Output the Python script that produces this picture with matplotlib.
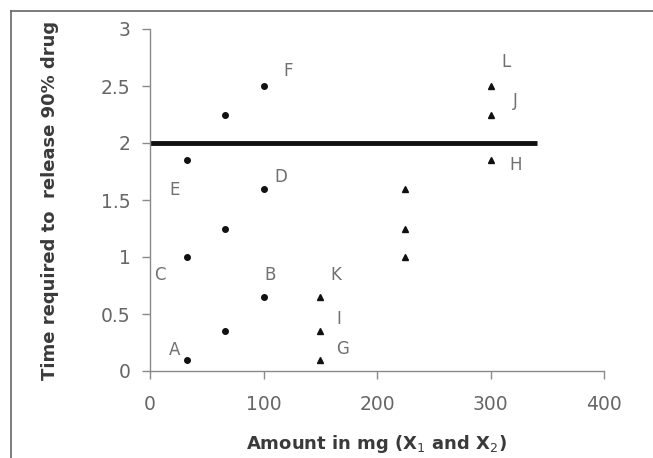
import matplotlib
matplotlib.use("Agg")
import matplotlib.pyplot as plt
from matplotlib.lines import Line2D

# === data ===
circle_x = [33, 66, 100, 33, 66, 100, 33, 66, 100]
circle_y = [0.1, 0.35, 0.65, 1.0, 1.25, 1.6, 1.85, 2.25, 2.5]

triangle_x = [150, 150, 150, 225, 225, 225, 300, 300, 300]
triangle_y = [0.1, 0.35, 0.65, 1.0, 1.25, 1.6, 1.85, 2.25, 2.5]

point_labels = ["A", "B", "C", "D", "E", "F", "G", "H", "I", "J", "K", "L"]
label_x = [22, 106, 9, 115, 22, 122, 170, 322, 166, 322, 164, 314]
label_y = [0.18, 0.84, 0.84, 1.70, 1.59, 2.63, 0.19, 1.81, 0.46, 2.37, 0.84, 2.71]

limit_y = 2.0
limit_x = [0, 341]

x_ticks = [0, 100, 200, 300, 400]
y_ticks = [0, 0.5, 1, 1.5, 2, 2.5, 3]
y_tick_labels = ["0", "0.5", "1", "1.5", "2", "2.5", "3"]

plt.rcParams["font.family"] = ["DejaVu Sans"]

fig = plt.figure(figsize=(6.53, 4.58), dpi=100)
ax = fig.add_axes([150 / 653, 1 - 371 / 458, 454 / 653, 342 / 458])

grey = "#8a8a8a"
text_grey = "#666666"

ax.plot(limit_x, [limit_y, limit_y], color="#111111", lw=3.5, solid_capstyle="butt", zorder=2)
ax.plot(circle_x, circle_y, "o", color="#111111", ms=4, ls="none", zorder=3)
ax.plot(triangle_x, triangle_y, "^", color="#111111", ms=5, ls="none", zorder=3)

for lab, lx, ly in zip(point_labels, label_x, label_y):
    ax.text(lx, ly, lab, fontsize=12, color="#707070", ha="center", va="center")

ax.set_xlim(0, 400)
ax.set_ylim(0, 3)
ax.set_xticks(x_ticks)
ax.set_yticks(y_ticks)
ax.set_yticklabels(y_tick_labels)

for side in ["top", "right"]:
    ax.spines[side].set_visible(False)
for side in ["left", "bottom"]:
    ax.spines[side].set_color(grey)
    ax.spines[side].set_linewidth(1.0)

ax.tick_params(direction="out", length=6, width=1, color=grey, labelcolor=text_grey,
               labelsize=13.5)
ax.tick_params(axis="x", pad=11)
ax.tick_params(axis="y", pad=8)

ax.set_xlabel("Amount in mg (X$_1$ and X$_2$)", fontsize=13, fontweight="bold", color="#3a3a3a")
ax.set_ylabel("Time required to  release 90% drug", fontsize=13, fontweight="bold", color="#3a3a3a")
ax.xaxis.set_label_coords(0.5, -0.18)
ax.yaxis.set_label_coords(-0.2, 0.5)

# outer frame (top and left edges visible in the reference)
fig.add_artist(Line2D([11 / 653, 1], [1 - 11 / 458, 1 - 11 / 458], transform=fig.transFigure, color="#666666", lw=1.2))
fig.add_artist(Line2D([11 / 653, 11 / 653], [0, 1 - 11 / 458], transform=fig.transFigure, color="#666666", lw=1.2))

fig.savefig("out.png", dpi=100)
